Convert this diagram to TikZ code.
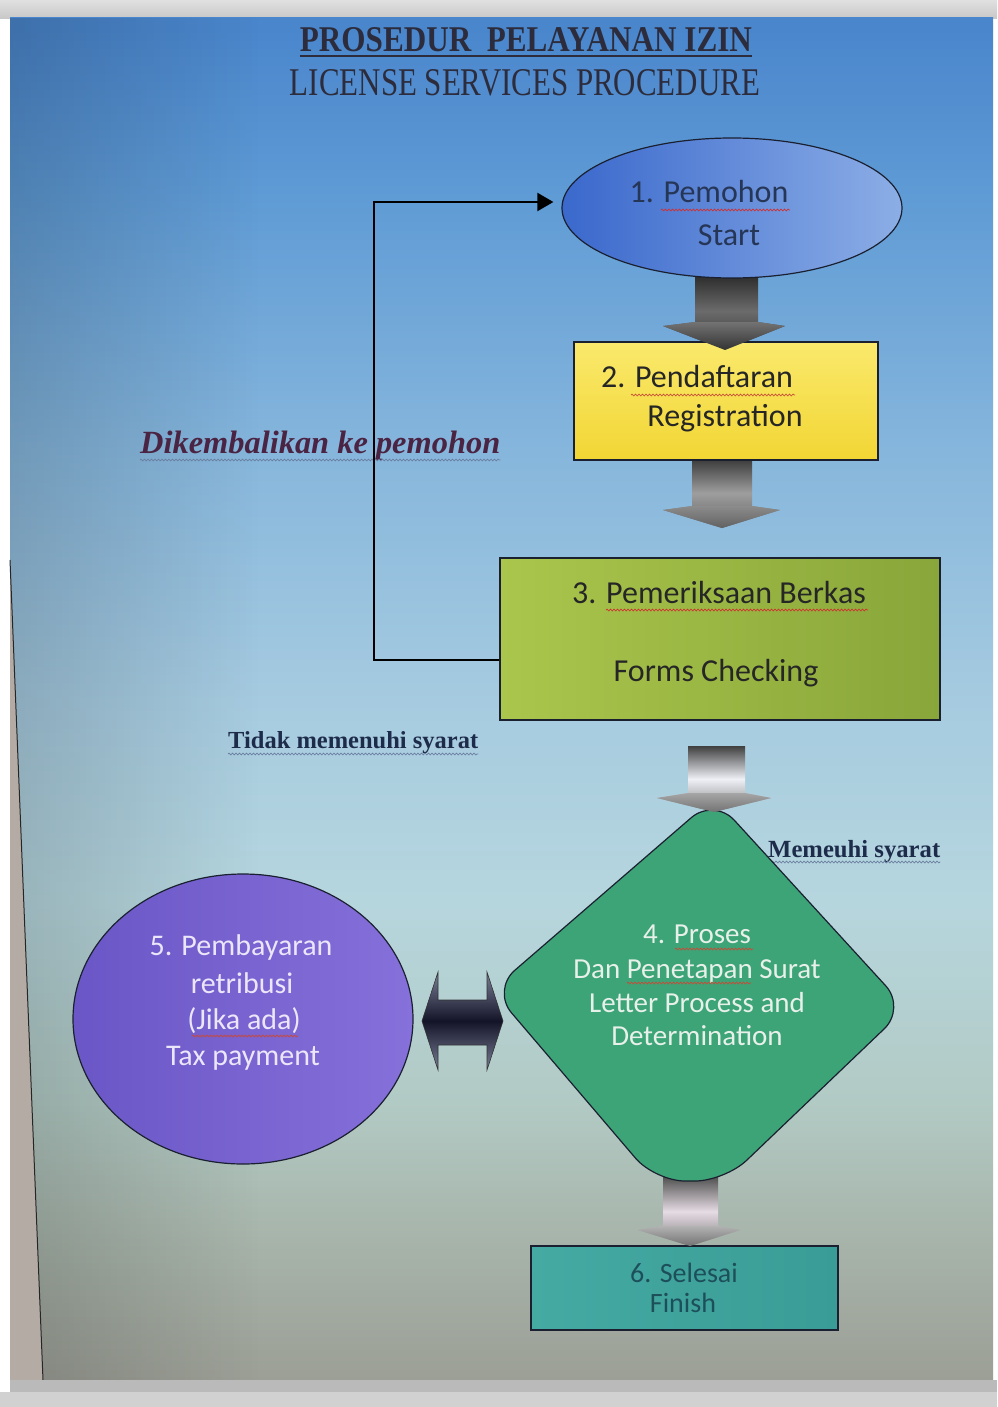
\documentclass[tikz,border=0pt]{standalone}
\usepackage{fontspec}
\usepackage{graphicx}
\setmainfont{Carlito}
\newfontfamily\titleserif{Liberation Serif}
\usetikzlibrary{shapes.geometric,arrows.meta,decorations.pathmorphing,fadings}

\definecolor{s1}{HTML}{4A86CC}
\definecolor{s2}{HTML}{5F9BD5}
\definecolor{s3}{HTML}{86B6DC}
\definecolor{s4}{HTML}{A6CBE0}
\definecolor{s5}{HTML}{B6D6DE}
\definecolor{s6}{HTML}{B2CAC4}
\definecolor{s7}{HTML}{A6B2A8}
\definecolor{s8}{HTML}{9C9F96}
\definecolor{bordc}{HTML}{1A2030}
\definecolor{titlec}{HTML}{2C2C3C}
\definecolor{dikc}{HTML}{4A2442}
\definecolor{navyc}{HTML}{1E2C4C}
\definecolor{eoneL}{HTML}{3A68CC}
\definecolor{eoneR}{HTML}{8CAEE6}
\definecolor{tonec}{HTML}{263656}
\definecolor{ytop}{HTML}{FAE96C}
\definecolor{ybot}{HTML}{F2D634}
\definecolor{gL}{HTML}{ABC64C}
\definecolor{gR}{HTML}{88A63A}
\definecolor{gfour}{HTML}{3DA477}
\definecolor{tfour}{HTML}{E8F0EA}
\definecolor{pL}{HTML}{6A56C6}
\definecolor{pR}{HTML}{8670DA}
\definecolor{tfive}{HTML}{ECE6FA}
\definecolor{tealA}{HTML}{44AAA2}
\definecolor{tealB}{HTML}{3A9C96}
\definecolor{tsix}{HTML}{1D4F5A}
\definecolor{bezel}{HTML}{B4ABA4}
\definecolor{squigred}{HTML}{D03030}
\definecolor{squigblue}{HTML}{6A7EA0}
\definecolor{darrE}{HTML}{7A8098}
\definecolor{darrM}{HTML}{141428}
\definecolor{silver}{HTML}{EEF0F6}
\definecolor{pinksilver}{HTML}{E6DCE4}

\pgfdeclareverticalshading{screenshade}{100bp}{color(0bp)=(s8); color(25bp)=(s8); color(29.7bp)=(s7); color(35.2bp)=(s6); color(42.6bp)=(s5); color(49.9bp)=(s4); color(59.1bp)=(s3); color(68.4bp)=(s2); color(74.6bp)=(s1); color(100bp)=(s1)}

\newcommand\fsz[2]{\fontsize{#1}{#2}\selectfont}

\begin{document}
\begin{tikzpicture}[x=1pt,y=-1pt,
  txt/.style={anchor=base, inner sep=0pt},
  boxnode/.style={rectangle, draw=bordc, line width=1.2pt, inner sep=0pt},
  ovalnode/.style={ellipse, draw=bordc, line width=1.2pt, inner sep=0pt},
  squig/.style={decorate, decoration={snake, amplitude=0.9pt, segment length=3.5pt}, line width=0.7pt},
  fb/.style={line width=2pt, black, -{Triangle[length=16pt,width=18pt]}}
]
\useasboundingbox (0,0) rectangle (997,1407);
\fill[white] (0,0) rectangle (997,1407);
% photo frame
\shade[top color=black!12, bottom color=black!22] (0,0) rectangle (997,19);
\shade[shading=screenshade] (10,18) rectangle (993,1380);
\fill[black, opacity=0.16, path fading=east] (10,18) rectangle (260,1380);
\fill[bezel] (10,560) -- (43,1380) -- (10,1380) -- cycle;
\draw[line width=1pt, black!85] (10,560) -- (43,1380);
\fill[black!27] (10,1380) rectangle (997,1392);
\fill[black!18] (0,1392) rectangle (997,1407);

% title
\node[txt, text=titlec] (title1) at (526,52) {\resizebox{452pt}{24pt}{\titleserif\bfseries PROSEDUR\ \ PELAYANAN IZIN}};
\draw[titlec, line width=2.2pt] ([yshift=-4pt]title1.base west) -- ([yshift=-4pt]title1.base east);
\node[txt, text=titlec] (title2) at (525,96) {\resizebox{470pt}{26pt}{\titleserif LICENSE SERVICES PROCEDURE}};

% side labels
\node[anchor=base west, inner sep=0pt, text=dikc] (lab1) at (140,453) {\resizebox{360pt}{!}{\titleserif\bfseries\itshape Dikembalikan ke pemohon}};
\draw[squig, squigblue] ([yshift=-7pt]lab1.base west) -- ([yshift=-7pt]lab1.base east);
\node[anchor=base west, inner sep=0pt, text=navyc] (lab2) at (228,748) {\resizebox{250pt}{!}{\titleserif\bfseries Tidak memenuhi syarat}};
\draw[squig, squigblue] ([yshift=-6pt]lab2.base west) -- ([yshift=-6pt]lab2.base east);
\node[anchor=base west, inner sep=0pt, text=navyc] (lab3) at (768,857) {\resizebox{172pt}{!}{\titleserif\bfseries Memeuhi syarat}};
\draw[squig, squigblue] ([yshift=-5pt]lab3.base west) -- ([yshift=-5pt]lab3.base east);

% block arrows (middle color must come last)
\shade[top color=black!85, bottom color=black!80, middle color=black!58] (695,272) -- (758,272) -- (758,322) -- (785,326) -- (725,350) -- (663,326) -- (695,322) -- cycle;
\shade[top color=black!78, bottom color=black!62, middle color=black!38] (692,458) -- (752,458) -- (752,506) -- (780,510) -- (722,528) -- (663,510) -- (692,506) -- cycle;
\shade[top color=black!75, bottom color=black!50, middle color=silver] (688,746) -- (745,746) -- (745,793) -- (771,798) -- (714,812) -- (657,798) -- (688,793) -- cycle;
\shade[top color=black!68, bottom color=black!52, middle color=pinksilver] (663,1177) -- (718,1177) -- (718,1226) -- (740,1230) -- (690,1246) -- (638,1230) -- (663,1226) -- cycle;

% nodes
\node[ovalnode, minimum width=340pt, minimum height=140pt, left color=eoneL, right color=eoneR] (n1) at (732,208) {};
\node[boxnode, minimum width=304pt, minimum height=118pt, top color=ytop, bottom color=ybot] (n2) at (726,401) {};
\node[boxnode, minimum width=440pt, minimum height=162pt, left color=gL, right color=gR] (n3) at (720,639) {};
\draw[line width=1.2pt, draw=bordc, fill=gfour, rounded corners=30pt] (603,894) -- (714,798) -- (906,1008) -- (725,1181) -- (655,1181) -- (492,990) -- cycle;
\coordinate (n4) at (697,995);
\node[ovalnode, minimum width=340pt, minimum height=290pt, left color=pL, right color=pR] (n5) at (243,1019) {};
\node[boxnode, minimum width=307pt, minimum height=84pt, left color=tealA, right color=tealB] (n6) at (684.5,1288) {};

% arrow heads drawn over node tops
\shade[top color=black!55, bottom color=black!80] (758,322) -- (785,326) -- (725,350) -- (663,326) -- (695,322) -- cycle;
\shade[top color=black!45, bottom color=black!62] (752,506) -- (780,510) -- (722,528) -- (663,510) -- (692,506) -- cycle;
\shade[top color=black!35, bottom color=black!55] (745,793) -- (771,798) -- (714,812) -- (657,798) -- (688,793) -- cycle;
\shade[top color=black!30, bottom color=black!55] (718,1226) -- (740,1230) -- (690,1246) -- (638,1230) -- (663,1226) -- cycle;

% double arrow
\shade[draw=black!80, line width=0.6pt, top color=darrE, bottom color=darrE, middle color=darrM] (422,1021) -- (438,972) -- (438,1000) -- (487,1000) -- (487,972) -- (503,1021) -- (487,1070) -- (487,1045) -- (438,1045) -- (438,1070) -- cycle;

% feedback connector
\draw[fb] ([yshift=-21pt]n3.west) -- ++(-125,0) |- ([xshift=-8pt,yshift=6pt]n1.west);

% node texts
\node[txt, text=tonec, font=\fsz{32}{40}] (t1a) at (709,202) {1. Pemohon};
\node[txt, text=tonec, font=\fsz{32}{40}] (t1b) at (729,245) {Start};
\draw[squig, squigred] (661,210) -- (790,210);

\node[txt, text=black!85, font=\fsz{32}{40}] (t2a) at (697,387) {2. Pendaftaran};
\node[txt, text=black!85, font=\fsz{32}{40}] (t2b) at (725,426) {Registration};
\draw[squig, squigred!60!brown] (631,395) -- (795,395);

\node[txt, text=black!85, font=\fsz{32}{40}] (t3a) at (719,603) {3. Pemeriksaan Berkas};
\node[txt, text=black!85, font=\fsz{32}{40}] (t3b) at (716,681) {Forms Checking};
\draw[squig, squigred] (606,610) -- (868,610);

\node[txt, text=tfour, font=\fsz{29}{34}] (t4a) at (697,943) {4. Proses};
\node[txt, text=tfour, font=\fsz{29}{34}] (t4b) at (697,978) {Dan Penetapan Surat};
\node[txt, text=tfour, font=\fsz{29}{34}] (t4c) at (697,1012) {Letter Process and};
\node[txt, text=tfour, font=\fsz{29}{34}] (t4d) at (697,1045) {Determination};
\draw[squig, squigred!70!brown] (675,949) -- (753,949);
\draw[squig, squigred!70!brown] (627,983) -- (751,983);

\node[txt, text=tfive, font=\fsz{30}{37}] (t5a) at (241,955) {5. Pembayaran};
\node[txt, text=tfive, font=\fsz{30}{37}] (t5b) at (242,993) {retribusi};
\node[txt, text=tfive, font=\fsz{30}{37}] (t5c) at (244,1029) {(Jika ada)};
\node[txt, text=tfive, font=\fsz{30}{37}] (t5d) at (243,1065) {Tax payment};
\draw[squig, squigred!70!brown] (192,1036) -- (298,1036);

\node[txt, text=tsix, font=\fsz{28}{31}] (t6a) at (684,1282) {6. Selesai};
\node[txt, text=tsix, font=\fsz{28}{31}] (t6b) at (683,1312) {Finish};
\end{tikzpicture}
\end{document}
